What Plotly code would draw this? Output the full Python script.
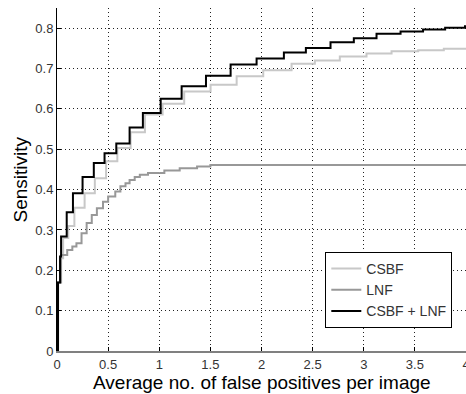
import plotly.graph_objects as go

# CSBF + LNF (black)
comb_x = [0, 0.01, 0.03, 0.04, 0.095, 0.156, 0.25, 0.36, 0.465, 0.58, 0.71, 0.84, 1.014, 1.219, 1.457, 1.698, 1.952, 2.219, 2.434, 2.675, 2.903, 3.125, 3.36, 3.58, 3.796, 3.99, 4.0]
comb_y = [0, 0.17, 0.234, 0.284, 0.344, 0.391, 0.431, 0.466, 0.49, 0.514, 0.554, 0.59, 0.625, 0.656, 0.682, 0.71, 0.725, 0.74, 0.751, 0.765, 0.775, 0.786, 0.792, 0.797, 0.801, 0.805, 0.805]

# CSBF (light gray)
csbf_x = [0, 0.01, 0.03, 0.06, 0.11, 0.17, 0.27, 0.37, 0.48, 0.59, 0.72, 0.86, 1.033, 1.244, 1.502, 1.757, 2.017, 2.294, 2.522, 2.766, 3.027, 3.272, 3.532, 3.783, 4.0]
csbf_y = [0, 0.17, 0.23, 0.28, 0.31, 0.355, 0.391, 0.428, 0.47, 0.503, 0.542, 0.586, 0.613, 0.643, 0.66, 0.681, 0.696, 0.712, 0.72, 0.73, 0.737, 0.743, 0.745, 0.749, 0.749]

# LNF (mid gray)
lnf_x = [0, 0.01, 0.04, 0.1, 0.15, 0.19, 0.24, 0.29, 0.34, 0.39, 0.45, 0.5, 0.57, 0.62, 0.67, 0.71, 0.76, 0.81, 0.89, 1.05, 1.2, 1.37, 1.5, 4.0]
lnf_y = [0, 0.17, 0.238, 0.25, 0.259, 0.267, 0.292, 0.317, 0.337, 0.354, 0.37, 0.383, 0.395, 0.408, 0.416, 0.424, 0.431, 0.437, 0.441, 0.447, 0.453, 0.457, 0.461, 0.461]

x_ticks = [0, 0.5, 1, 1.5, 2, 2.5, 3, 3.5, 4]
x_tick_labels = ["0", "0.5", "1", "1.5", "2", "2.5", "3", "3.5", "4"]
y_ticks = [0, 0.1, 0.2, 0.3, 0.4, 0.5, 0.6, 0.7, 0.8]
y_tick_labels = ["0", "0.1", "0.2", "0.3", "0.4", "0.5", "0.6", "0.7", "0.8"]

fig = go.Figure()
fig.add_trace(go.Scatter(x=csbf_x, y=csbf_y, mode="lines", name="CSBF",
                         line=dict(color="#c8c8c8", width=2, shape="hv")))
fig.add_trace(go.Scatter(x=lnf_x, y=lnf_y, mode="lines", name="LNF",
                         line=dict(color="#989898", width=2, shape="hv")))
fig.add_trace(go.Scatter(x=comb_x, y=comb_y, mode="lines", name="CSBF + LNF",
                         line=dict(color="#000000", width=2, shape="hv")))

font_family = "Liberation Sans, Arial, sans-serif"
fig.update_layout(
    width=466, height=394,
    margin=dict(l=57, r=0, t=8, b=43, autoexpand=False),
    paper_bgcolor="white", plot_bgcolor="white",
    font=dict(family=font_family, size=13, color="#333333"),
    showlegend=True,
    legend=dict(x=0.656, y=0.178, xanchor="left", yanchor="middle",
                bgcolor="white", bordercolor="#000000", borderwidth=1,
                font=dict(size=14, color="#333333"),
                tracegroupgap=0, itemwidth=30),
    xaxis=dict(range=[0, 4], tickvals=x_ticks, ticktext=x_tick_labels,
               showgrid=True, gridcolor="#222222", griddash="1px,3px", gridwidth=1,
               zeroline=False, showline=True, linecolor="#808080", linewidth=2,
               ticks="inside", ticklen=4, tickcolor="#000000",
               automargin=False, ticklabeloverflow="allow"),
    yaxis=dict(range=[0, 0.85], tickvals=y_ticks, ticktext=y_tick_labels,
               showgrid=True, gridcolor="#222222", griddash="1px,3px", gridwidth=1,
               zeroline=False, showline=True, linecolor="#000000", linewidth=1,
               ticks="inside", ticklen=4, tickcolor="#000000",
               automargin=False, ticklabeloverflow="allow"),
    annotations=[
        dict(text="Average no. of false positives per image", xref="paper", yref="paper",
             x=0.5, y=0, yshift=-31, xanchor="center", yanchor="middle", showarrow=False,
             font=dict(size=19, color="#000000")),
        dict(text="Sensitivity", xref="paper", yref="paper", textangle=-90,
             x=0, xshift=-37, y=0.5, xanchor="center", yanchor="middle", showarrow=False,
             font=dict(size=19, color="#000000")),
    ],
)

fig.write_html("out.html", config={"displayModeBar": False},
               post_script="document.body.style.margin='0';document.body.style.overflow='hidden';")
